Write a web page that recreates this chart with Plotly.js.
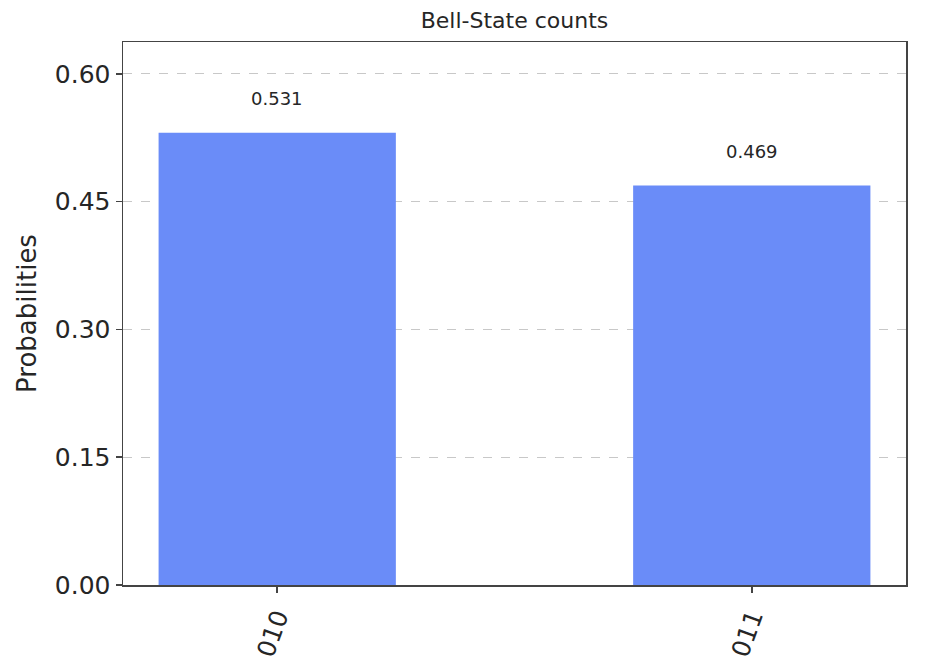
<!DOCTYPE html>
<html>
<head>
<meta charset="utf-8">
<script src="https://cdn.plot.ly/plotly-3.0.1.min.js"></script>
<style>html,body{margin:0;padding:0;background:#fff}#chart{width:950px;height:672px}</style>
</head>
<body>
<div id="chart"></div>
<script>
const states = ["010", "011"];
const probabilities = [0.531, 0.469];
const valueLabels = ["0.531", "0.469"];
const yTicks = [0, 0.15, 0.30, 0.45, 0.60];
const yTickText = ["0.00", "0.15", "0.30", "0.45", "0.60"];

const FONT = "DejaVu Sans, sans-serif";
const TXT = "#262626";

const trace = {
  type: "bar",
  x: states,
  y: probabilities,
  width: 0.5,
  marker: {color: "#6a8cf8", line: {width: 0}},
  hoverinfo: "skip"
};

const annotations = states.map((s, i) => ({
  x: i, y: probabilities[i], xref: "x", yref: "y",
  text: valueLabels[i], showarrow: false,
  xanchor: "center", yanchor: "bottom", yshift: 22,
  font: {family: FONT, size: 18, color: TXT}
}));

const layout = {
  width: 950, height: 672,
  margin: {l: 123, r: 44, t: 42, b: 87},
  paper_bgcolor: "#fff", plot_bgcolor: "#fff",
  showlegend: false,
  title: {text: "Bell-State counts", x: 0.5, xanchor: "center", y: 0.97, yanchor: "middle",
          xref: "paper", font: {family: FONT, size: 22, color: TXT}},
  xaxis: {
    type: "category", range: [-0.325, 1.325],
    showline: true, linecolor: "#444", linewidth: 1.5, mirror: true,
    ticks: "outside", ticklen: 6, tickcolor: "#444", tickwidth: 1.5,
    tickangle: -70, showgrid: false, zeroline: false,
    tickfont: {family: FONT, size: 25, color: TXT}
  },
  yaxis: {
    range: [0, 0.6375],
    tickvals: yTicks, ticktext: yTickText,
    showline: true, linecolor: "#444", linewidth: 1.5, mirror: true,
    ticks: "outside", ticklen: 6, tickcolor: "#444", tickwidth: 1.5,
    showgrid: true, gridcolor: "#c8c8c8", gridwidth: 1, griddash: "dash",
    zeroline: false,
    tickfont: {family: FONT, size: 25, color: TXT},
    title: {text: "Probabilities", font: {family: FONT, size: 26, color: TXT}, standoff: 10}
  },
  annotations: annotations
};

Plotly.newPlot("chart", [trace], layout, {displayModeBar: false, staticPlot: true});
</script>
</body>
</html>
